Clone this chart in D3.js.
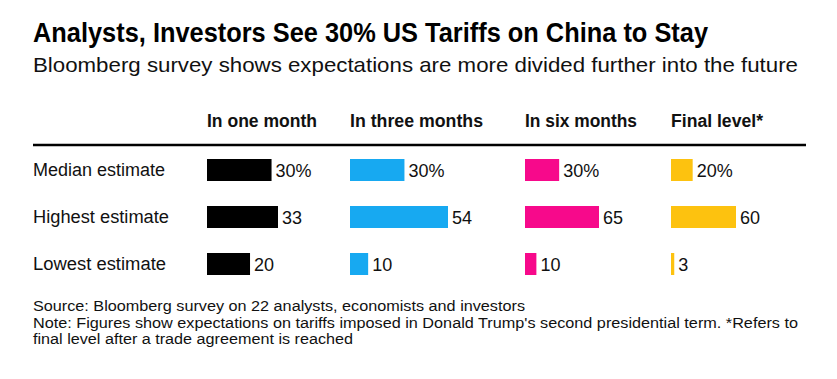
<!DOCTYPE html>
<html>
<head>
<meta charset="utf-8">
<script src="https://cdn.jsdelivr.net/npm/d3@7"></script>
<style>
  html, body { margin: 0; padding: 0; background: #fff; }
  svg { display: block; }
  text { font-family: "Liberation Sans", Arial, sans-serif; }
</style>
</head>
<body>
<svg id="chart" width="837" height="379"></svg>
<script>
// ---- data ----
const rows = ["Median estimate", "Highest estimate", "Lowest estimate"];
const columns = ["In one month", "In three months", "In six months", "Final level*"];
const oneMonth = [30, 33, 20];
const threeMonths = [30, 54, 10];
const sixMonths = [30, 65, 10];
const finalLevel = [20, 60, 3];
const valueLabels = [
  ["30%", "33", "20"],
  ["30%", "54", "10"],
  ["30%", "65", "10"],
  ["20%", "60", "3"]
];
const seriesValues = [oneMonth, threeMonths, sixMonths, finalLevel];
const colors = ["#000000", "#17a9f1", "#f7098b", "#fdc20f"];

const title = "Analysts, Investors See 30% US Tariffs on China to Stay";
const subtitle = "Bloomberg survey shows expectations are more divided further into the future";
const source = "Source: Bloomberg survey on 22 analysts, economists and investors";
const note1 = "Note: Figures show expectations on tariffs imposed in Donald Trump's second presidential term. *Refers to";
const note2 = "final level after a trade agreement is reached";

// ---- layout ----
const colX = [207, 350, 525, 671];
const colMaxWidth = [71, 98, 74, 65];
const leftX = 33;

const svg = d3.select("#chart");

function fitText(sel, target) {
  const node = sel.node();
  const w = node.getComputedTextLength();
  if (target && Math.abs(w - target) > 1) {
    sel.attr("textLength", target).attr("lengthAdjust", "spacingAndGlyphs");
  }
  return sel;
}

// title & subtitle
fitText(svg.append("text").attr("x", leftX).attr("y", 42)
  .attr("font-size", 27).attr("font-weight", "bold").attr("fill", "#000")
  .text(title), 675);
fitText(svg.append("text").attr("x", leftX).attr("y", 72)
  .attr("font-size", 21).attr("fill", "#111")
  .text(subtitle), 765);

// column headers
const headerWidths = [110, 133, 112, 92];
columns.forEach((c, i) => {
  fitText(svg.append("text").attr("x", colX[i]).attr("y", 127)
    .attr("font-size", 18).attr("font-weight", "bold").attr("fill", "#111")
    .text(c), headerWidths[i]);
});

// rule
svg.append("line").attr("x1", leftX).attr("x2", 806)
  .attr("y1", 145).attr("y2", 145)
  .attr("stroke", "#000").attr("stroke-width", 2.5);

// row scale
const y = d3.scalePoint().domain(rows).range([170, 264]);
const barH = 22;

const rowWidths = [133, 136, 133];
rows.forEach((r, i) => {
  fitText(svg.append("text").attr("x", leftX).attr("y", y(r) + 6)
    .attr("font-size", 18).attr("fill", "#111")
    .text(r), rowWidths[i]);
});

// bars per column
columns.forEach((c, ci) => {
  const vals = seriesValues[ci];
  const x = d3.scaleLinear().domain([0, d3.max(vals)]).range([0, colMaxWidth[ci]]);
  const g = svg.append("g").attr("transform", `translate(${colX[ci]},0)`);
  g.selectAll("rect").data(vals).join("rect")
    .attr("x", 0)
    .attr("y", (d, i) => y(rows[i]) - barH / 2)
    .attr("width", d => x(d))
    .attr("height", barH)
    .attr("fill", colors[ci]);
  g.selectAll("text.val").data(vals).join("text")
    .attr("class", "val")
    .attr("x", d => x(d) + 4)
    .attr("y", (d, i) => y(rows[i]) + 7)
    .attr("font-size", 18)
    .attr("fill", "#111")
    .text((d, i) => valueLabels[ci][i]);
});

// footnotes
fitText(svg.append("text").attr("x", leftX).attr("y", 311)
  .attr("font-size", 15.5).attr("fill", "#111").text(source), 492);
fitText(svg.append("text").attr("x", leftX).attr("y", 327.5)
  .attr("font-size", 15.5).attr("fill", "#111").text(note1), 765);
fitText(svg.append("text").attr("x", leftX).attr("y", 344)
  .attr("font-size", 15.5).attr("fill", "#111").text(note2), 320);
</script>
</body>
</html>
